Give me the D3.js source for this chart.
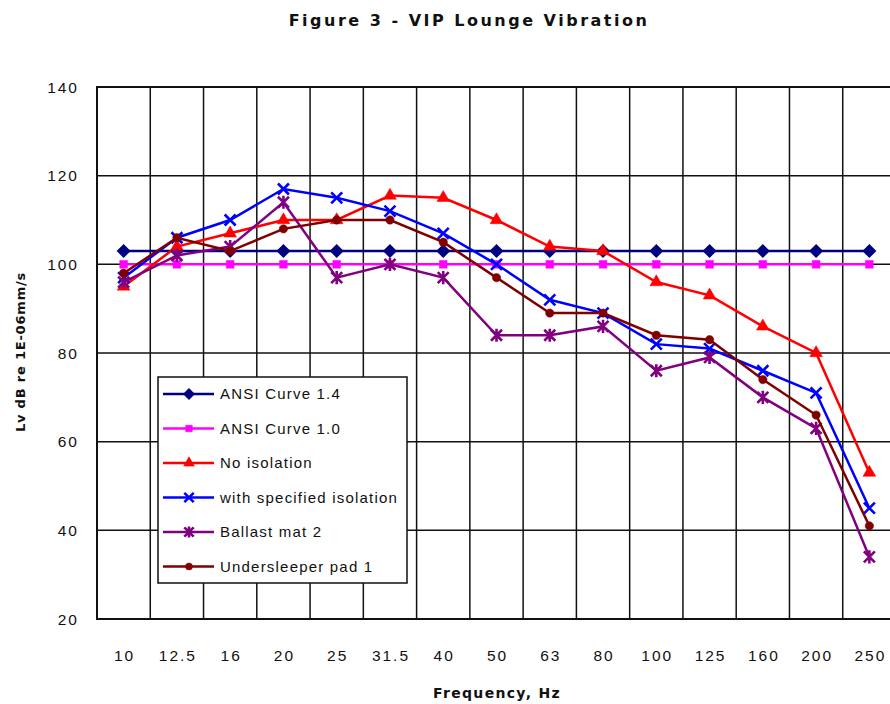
<!DOCTYPE html>
<html>
<head>
<meta charset="utf-8">
<script src="https://cdn.jsdelivr.net/npm/d3@7"></script>
<style>
    body { margin: 0; background: #fff; }
    svg text { fill: #111; }
    .tick-label { font-family: 'Liberation Sans', Arial, sans-serif; font-size: 15.5px; letter-spacing: 2px; }
    .title { font-family: 'DejaVu Sans', sans-serif; font-size: 16px; font-weight: bold; letter-spacing: 2.5px; }
    .axis-title { font-family: 'DejaVu Sans', sans-serif; font-size: 14px; font-weight: bold; letter-spacing: 1.3px; }
    .y-title { font-family: 'DejaVu Sans', sans-serif; font-size: 13px; font-weight: bold; letter-spacing: 0.8px; }
    .legend-text { font-family: 'Liberation Sans', Arial, sans-serif; font-size: 15px; letter-spacing: 1.2px; }
</style>
</head>
<body>
<div class="chart">
    <svg width="890" height="704"></svg>
</div>
<script>
const frequencies = ['10', '12.5', '16', '20', '25', '31.5', '40', '50', '63', '80', '100', '125', '160', '200', '250'];
const yTicks = [20, 40, 60, 80, 100, 120, 140];

const ansi14 = [103, 103, 103, 103, 103, 103, 103, 103, 103, 103, 103, 103, 103, 103, 103];
const ansi10 = [100, 100, 100, 100, 100, 100, 100, 100, 100, 100, 100, 100, 100, 100, 100];
const noIsolation = [95, 104, 107, 110, 110, 115.5, 115, 110, 104, 103, 96, 93, 86, 80, 53];
const specifiedIsolation = [97, 106, 110, 117, 115, 112, 107, 100, 92, 89, 82, 81, 76, 71, 45];
const ballastMat2 = [96, 102, 104, 114, 97, 100, 97, 84, 84, 86, 76, 79, 70, 63, 34];
const undersleeperPad1 = [98, 106, 103, 108, 110, 110, 105, 97, 89, 89, 84, 83, 74, 66, 41];

const seriesNames = ['ANSI Curve 1.4', 'ANSI Curve 1.0', 'No isolation', 'with specified isolation', 'Ballast mat 2', 'Undersleeper pad 1'];
const seriesColors = ['#000080', '#ff00ff', '#ff0000', '#0000ff', '#800080', '#800000'];
const seriesMarkers = ['diamond', 'square', 'triangle', 'cross', 'star', 'circle'];

const chart = () => {
    const margin = { top: 87, right: -6, bottom: 85, left: 97 };
    const svg = d3.select('.chart svg');
    const w = 890;
    const h = 704;
    const width = w - margin.left - margin.right;
    const height = h - margin.top - margin.bottom;

    const series = [ansi14, ansi10, noIsolation, specifiedIsolation, ballastMat2, undersleeperPad1].map((values, i) => ({
        name: seriesNames[i],
        color: seriesColors[i],
        marker: seriesMarkers[i],
        values: values.map((v, j) => ({ f: frequencies[j], v }))
    }));

    const x = d3.scaleBand().domain(frequencies).range([0, width]).padding(0);
    const y = d3.scaleLinear().domain([20, 140]).range([height, 0]);
    const cx = (d) => x(d.f) + x.bandwidth() / 2;

    const g = svg.append('g').attr('transform', `translate(${margin.left},${margin.top})`);

    // grid
    g.append('g')
        .selectAll('line')
        .data(yTicks)
        .enter()
        .append('line')
        .attr('x1', 0)
        .attr('x2', width)
        .attr('y1', (d) => y(d))
        .attr('y2', (d) => y(d))
        .attr('stroke', '#111')
        .attr('stroke-width', 1.5);

    g.append('g')
        .selectAll('line')
        .data(frequencies)
        .enter()
        .append('line')
        .attr('x1', (d) => x(d))
        .attr('x2', (d) => x(d))
        .attr('y1', 0)
        .attr('y2', height)
        .attr('stroke', '#111')
        .attr('stroke-width', 1.5);

    g.append('rect')
        .attr('width', width)
        .attr('height', height)
        .attr('fill', 'none')
        .attr('stroke', '#111')
        .attr('stroke-width', 2);

    // tick labels
    g.append('g')
        .selectAll('text')
        .data(yTicks)
        .enter()
        .append('text')
        .attr('class', 'tick-label')
        .attr('x', -18)
        .attr('y', (d) => y(d))
        .attr('dy', '0.36em')
        .attr('text-anchor', 'end')
        .text((d) => d);

    g.append('g')
        .selectAll('text')
        .data(frequencies)
        .enter()
        .append('text')
        .attr('class', 'tick-label')
        .attr('x', (d) => x(d) + x.bandwidth() / 2 + 1)
        .attr('y', height + 42)
        .attr('text-anchor', 'middle')
        .text((d) => d);

    const symbolOf = (m, size) => {
        const types = {
            square: d3.symbolSquare,
            triangle: d3.symbolTriangle,
            circle: d3.symbolCircle
        };
        return d3.symbol().type(types[m]).size(size)();
    };

    const drawMarker = (sel, s, scale) => {
        const k = scale || 1;
        if (s.marker === 'cross' || s.marker === 'star') {
            const r = 5.5 * k;
            let p = `M${-r},${-r}L${r},${r}M${-r},${r}L${r},${-r}`;
            if (s.marker === 'star') p += `M0,${-r * 1.2}L0,${r * 1.2}`;
            sel.append('path')
                .attr('d', p)
                .attr('stroke', s.color)
                .attr('stroke-width', 2.6)
                .attr('fill', 'none');
        } else if (s.marker === 'diamond') {
            const r = 7 * k;
            sel.append('path')
                .attr('d', `M0,${-r}L${r},0L0,${r}L${-r},0Z`)
                .attr('fill', s.color);
        } else {
            const sizes = { square: 60, triangle: 70, circle: 55 };
            sel.append('path')
                .attr('d', symbolOf(s.marker, sizes[s.marker] * k * k))
                .attr('fill', s.color)
                .attr('stroke', s.color)
                .attr('stroke-width', 0.5);
        }
    };

    const line = d3.line().x(cx).y((d) => y(d.v));

    const layers = g.append('g')
        .selectAll('g')
        .data(series)
        .enter()
        .append('g');

    layers.append('path')
        .attr('d', (d) => line(d.values))
        .attr('fill', 'none')
        .attr('stroke', (d) => d.color)
        .attr('stroke-width', 2.5);

    layers.each(function (s) {
        d3.select(this)
            .selectAll('.pt')
            .data(s.values)
            .enter()
            .append('g')
            .attr('class', 'pt')
            .attr('transform', (d) => `translate(${cx(d)},${y(d.v)})`)
            .each(function () {
                drawMarker(d3.select(this), s);
            });
    });

    // legend
    const legend = svg.append('g').attr('transform', 'translate(158,377)');

    legend.append('rect')
        .attr('width', 249)
        .attr('height', 206)
        .attr('fill', '#fff')
        .attr('stroke', '#111')
        .attr('stroke-width', 1.5);

    const items = legend.selectAll('.item')
        .data(series)
        .enter()
        .append('g')
        .attr('class', 'item')
        .attr('transform', (d, i) => `translate(0,${17 + i * 34.5})`);

    items.append('line')
        .attr('x1', 5)
        .attr('x2', 56)
        .attr('stroke', (d) => d.color)
        .attr('stroke-width', 2.5);

    items.append('g')
        .attr('transform', 'translate(31,0)')
        .each(function (s) {
            drawMarker(d3.select(this), s, 0.85);
        });

    items.append('text')
        .attr('class', 'legend-text')
        .attr('x', 62)
        .attr('dy', '0.36em')
        .text((d) => d.name);

    // titles
    svg.append('text')
        .attr('class', 'title')
        .attr('x', 469)
        .attr('y', 26)
        .attr('text-anchor', 'middle')
        .text('Figure 3 - VIP Lounge Vibration');

    svg.append('text')
        .attr('class', 'axis-title')
        .attr('x', 497)
        .attr('y', 698)
        .attr('text-anchor', 'middle')
        .text('Frequency, Hz');

    svg.append('text')
        .attr('class', 'y-title')
        .attr('transform', 'translate(25,352) rotate(-90)')
        .attr('text-anchor', 'middle')
        .text('Lv dB re 1E-06mm/s');
};

chart();
</script>
</body>
</html>
